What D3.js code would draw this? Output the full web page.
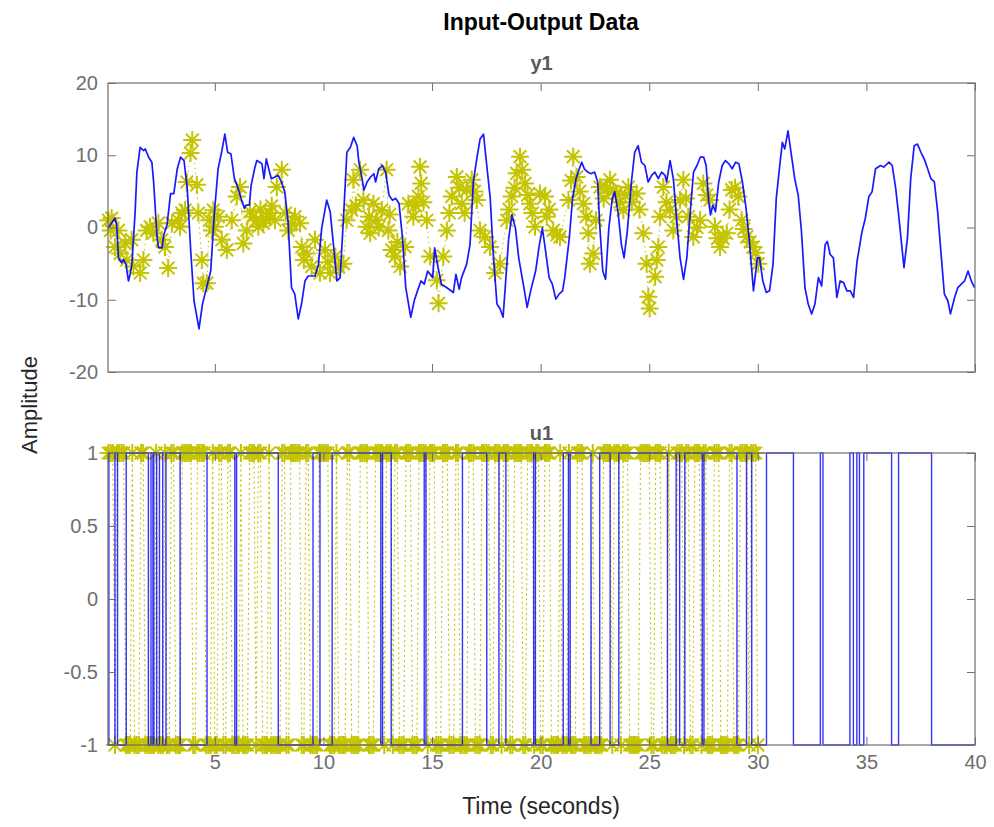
<!DOCTYPE html>
<html><head><meta charset="utf-8">
<script src="https://cdn.jsdelivr.net/npm/d3@7"></script>
<style>
body{margin:0;background:#fff}
svg{display:block}
text{font-family:"Liberation Sans",Arial,Helvetica,sans-serif}
</style>
</head><body>
<svg id="chart" width="994" height="827"></svg>
<script>
// ---------------- data ----------------
const xTicks = [5, 10, 15, 20, 25, 30, 35, 40];
const yTicksTop = [-20, -10, 0, 10, 20];
const yTicksBottom = [-1, -0.5, 0, 0.5, 1];

// y1 (blue line), time in seconds / amplitude
const y1BlueT = [0.1,0.4,0.48,0.56,0.71,0.79,0.91,1.02,1.1,1.18,1.33,1.41,1.56,1.72,1.8,1.95,2.1,2.18,2.34,2.41,2.57,2.65,2.8,2.96,3.11,3.27,3.42,3.58,3.73,3.89,4.04,4.27,4.43,4.58,4.81,4.97,5.15,5.31,5.46,5.59,5.74,5.9,6.05,6.21,6.36,6.44,6.59,6.67,6.83,6.93,7.06,7.17,7.26,7.37,7.48,7.6,7.91,8.07,8.22,8.37,8.53,8.68,8.84,8.99,9.15,9.3,9.46,9.61,9.77,9.92,10.15,10.31,10.46,10.62,10.77,10.93,11.08,11.24,11.39,11.55,11.63,11.78,11.86,12.01,12.17,12.32,12.4,12.55,12.71,12.86,13.02,13.17,13.33,13.48,13.64,13.79,14.02,14.18,14.33,14.49,14.64,14.8,15.03,15.12,15.28,15.43,15.67,15.98,16.1,16.25,16.36,16.59,16.75,16.9,17.06,17.21,17.37,17.52,17.68,17.83,17.99,18.14,18.27,18.37,18.53,18.68,18.84,18.99,19.23,19.38,19.54,19.77,19.92,20.08,20.23,20.39,20.54,20.7,20.85,21.01,21.11,21.32,21.47,21.63,21.78,21.89,22.01,22.17,22.32,22.48,22.63,22.71,22.86,22.99,23.14,23.3,23.41,23.56,23.72,23.84,23.99,24.18,24.33,24.49,24.64,24.8,24.95,25.11,25.26,25.42,25.57,25.73,25.8,25.96,26.11,26.27,26.42,26.58,26.73,26.89,27.04,27.2,27.35,27.51,27.62,27.74,27.82,27.93,28.05,28.2,28.36,28.51,28.67,28.82,28.98,29.13,29.29,29.44,29.6,29.8,29.98,30.08,30.23,30.39,30.54,30.7,30.85,31.01,31.13,31.24,31.39,31.55,31.7,31.86,32.01,32.17,32.32,32.48,32.63,32.79,32.94,33.1,33.2,33.33,33.48,33.64,33.79,33.95,34.1,34.26,34.41,34.57,34.8,34.95,35.11,35.26,35.42,35.65,35.8,36.04,36.19,36.35,36.5,36.73,36.89,37.04,37.2,37.35,37.51,37.66,37.82,37.97,38.13,38.28,38.44,38.59,38.75,38.87,39.06,39.21,39.37,39.52,39.68,39.83,39.98];
const y1BlueV = [0.0,1.28,0.37,-4.2,-4.89,-4.43,-5.11,-7.4,-6.48,-5.11,2.19,7.67,11.1,10.64,10.87,9.73,9.04,6.3,-1.46,-2.83,-2.83,-1.0,0.37,4.7,4.7,8.13,9.73,9.27,5.39,-3.29,-10.14,-14.02,-10.59,-8.77,-6.03,1.74,8.13,10.41,12.92,10.41,10.18,6.76,5.62,4.02,2.65,3.11,3.11,5.84,8.13,9.27,9.04,8.81,6.76,9.5,8.13,6.76,7.21,6.3,4.93,0.82,-8.31,-9.22,-12.65,-10.59,-7.4,-6.71,-6.71,-6.71,-5.11,-0.09,3.79,2.19,-2.37,-7.4,-6.94,1.74,10.41,11.1,12.47,11.32,9.04,6.76,5.16,6.3,6.99,7.44,6.3,8.13,8.58,7.67,4.47,3.79,4.02,3.33,-1.46,-8.31,-12.42,-10.14,-8.77,-7.4,-7.85,-6.03,-6.94,-2.83,-5.57,-7.85,-8.31,-9.0,-6.48,-8.54,-6.94,-5.11,-2.37,6.3,9.5,12.24,12.92,8.58,4.02,-4.2,-10.59,-11.28,-12.42,-8.31,-1.46,1.74,-0.09,-4.2,-8.31,-11.05,-8.77,-6.03,-2.83,-0.09,-3.29,-6.94,-7.85,-9.91,-9.22,-8.77,-6.94,-1.46,4.02,6.76,8.13,9.04,8.13,7.67,7.44,7.67,6.3,0.82,-6.03,-7.17,-0.09,4.02,4.93,2.19,-2.37,-4.2,-0.55,6.3,10.41,11.32,9.04,8.58,6.3,7.21,7.67,6.76,7.67,7.21,6.3,9.27,6.76,0.82,-4.2,-7.17,-4.2,2.19,7.67,8.58,9.73,9.73,8.58,3.56,1.74,3.11,2.19,6.3,8.58,9.27,8.81,8.13,9.04,8.81,6.3,3.11,-1.46,-8.77,-4.2,-4.2,-7.4,-9.0,-8.77,-5.11,4.02,8.58,11.78,10.87,13.38,9.95,6.76,4.47,-0.55,-8.31,-10.59,-11.96,-10.59,-6.94,-8.08,-2.37,-1.92,-3.74,-4.2,-9.68,-7.4,-7.63,-8.77,-8.77,-9.68,-4.66,-0.55,1.28,4.25,4.93,8.13,8.58,8.36,9.04,8.58,5.39,1.28,-5.57,-1.46,6.76,11.32,11.55,10.41,9.5,8.13,6.76,6.3,2.19,-3.74,-9.22,-10.14,-11.96,-9.68,-8.31,-7.85,-7.4,-6.03,-7.4,-8.31];

// y1 (yellow markers, second data set)
const y1YellowT = [0.1,0.2,0.25,0.4,0.56,0.64,0.87,0.94,1.17,1.25,1.56,1.71,1.86,2.02,2.17,2.4,2.55,2.7,2.85,3.02,3.32,3.4,3.48,3.63,3.71,3.88,3.96,4.17,4.24,4.4,4.47,4.63,4.75,4.86,4.93,5.0,5.16,5.32,5.55,5.78,6.01,6.16,6.31,6.47,6.62,6.77,6.9,7.0,7.1,7.23,7.35,7.54,7.62,7.77,7.85,8.08,8.25,8.38,8.55,8.69,8.92,9.0,9.1,9.23,9.46,9.61,9.84,10.07,10.2,10.3,10.55,10.7,10.92,11.07,11.3,11.38,11.5,11.69,11.84,11.99,12.1,12.15,12.3,12.45,12.55,12.68,12.91,12.99,13.05,13.14,13.3,13.4,13.53,13.76,13.91,14.14,14.25,14.37,14.45,14.5,14.6,14.76,14.91,15.22,15.3,15.52,15.68,15.8,15.91,16.14,16.25,16.37,16.5,16.6,16.83,16.95,17.06,17.21,17.44,17.67,17.9,18.13,18.44,18.55,18.67,18.8,18.9,19.05,19.15,19.28,19.4,19.51,19.62,19.74,19.97,20.2,20.28,20.4,20.58,20.75,20.89,21.28,21.4,21.5,21.66,21.8,21.97,22.1,22.2,22.27,22.43,22.55,22.73,22.9,23.05,23.19,23.35,23.5,23.65,23.81,23.9,24.04,24.2,24.42,24.55,24.73,24.88,24.96,25.02,25.27,25.35,25.42,25.5,25.65,25.8,25.96,26.11,26.25,26.42,26.57,26.7,26.8,27.03,27.2,27.34,27.49,27.65,27.8,28.03,28.15,28.26,28.4,28.57,28.7,28.8,28.95,29.1,29.26,29.35,29.49,29.65,29.79,29.9,30.02];
const y1YellowV = [1.0,-0.4,1.3,-2.7,-0.4,-3.6,-2.2,-4.5,-1.7,-5.4,-6.3,-4.5,-0.4,0.1,-0.8,0.6,-1.7,-2.7,-5.6,0.6,1.0,0.1,2.0,2.4,6.3,10.3,12.1,5.9,2.0,-4.5,-7.7,-7.7,1.0,-0.4,2.4,0.1,1.5,-1.7,-3.1,1.0,4.3,5.6,-2.2,-0.4,2.2,1.5,1.0,0.1,2.5,0.6,1.2,2.0,3.0,1.0,5.6,8.0,2.0,-0.4,0.5,1.5,0.6,-2.7,-4.5,-3.6,-5.4,-1.7,-6.3,-3.1,-4.8,-6.3,-4.0,-5.5,-5.0,1.0,2.4,6.6,3.0,8.0,3.8,0.1,1.5,-0.8,3.3,1.0,0.0,2.4,8.0,-0.4,1.8,-3.1,-4.0,-2.0,-5.4,-2.7,3.3,1.5,3.0,4.3,8.4,6.1,3.5,1.0,-4.0,-7.3,-10.5,-4.0,-0.4,2.0,4.3,7.0,5.5,3.3,2.0,5.2,6.6,5.0,3.8,-0.4,-1.3,-2.7,-6.3,-5.0,1.0,2.5,4.3,5.5,7.5,9.8,8.0,6.1,4.5,3.3,2.0,0.1,4.7,4.3,1.5,2.5,-0.4,-1.0,-1.3,3.8,6.5,9.8,7.0,5.0,3.3,1.5,-0.8,-5.0,-3.6,1.0,5.6,4.0,5.5,6.6,5.0,4.7,3.5,2.4,4.5,5.6,3.5,4.7,2.5,-0.8,-5.0,-9.6,-11.2,-6.8,-4.5,-2.7,1.5,5.6,3.5,2.4,-0.4,1.5,3.8,6.6,4.0,1.5,-1.3,0.0,1.0,6.1,4.5,3.8,0.1,-1.5,-2.7,-1.5,-0.8,2.5,5.2,5.5,4.3,1.0,-0.2,-1.3,-2.0,-2.7,-3.5,-5.0];

// u1 (blue, zero-order hold): switching times and the level held from each
const u1BlueT = [0.08,0.12,0.4,0.52,0.92,1.94,2.06,2.15,2.19,2.32,2.45,2.6,2.75,3.4,4.64,5.92,6.0,7.92,9.52,9.84,10.4,12.64,12.72,13.12,14.64,14.72,16.4,17.52,18.08,18.4,19.68,19.76,21.04,21.28,21.36,22.32,22.72,23.2,23.6,25.84,26.24,26.4,26.64,27.44,27.52,29.04,29.48,29.72,30.4,31.64,32.88,33.0,34.24,34.4,34.56,34.68,34.88,36.16,36.48,38.0];
const u1BlueV = [1,-1,1,-1,1,-1,1,-1,1,-1,1,-1,1,-1,1,-1,1,-1,1,-1,1,-1,1,-1,1,-1,1,-1,1,-1,1,-1,1,-1,1,-1,1,-1,1,-1,1,-1,1,-1,1,-1,1,-1,1,-1,1,-1,1,-1,1,-1,1,-1,1,-1];

// u1 (yellow, second data set): one value per sample, Ts = 0.1 s from t = 0.1 s
const u1YellowT0 = 0.1, u1YellowTs = 0.1;
const u1YellowV = [
  1,1,1,-1,1,1,1,1, -1,-1,-1,1,-1,-1,-1, 1,1, -1,-1,-1,-1,-1, 1, -1,-1,-1,1,-1,-1, 1,1, -1,-1,-1,
  1,1,1,1,1, -1,-1, 1,1,1,1, -1,-1,-1,1,-1,-1, 1,1, -1,-1, 1,1, -1,-1,-1,-1,1,-1,-1,-1,
  1,1,1, -1, 1,1, -1,-1,-1, 1, -1,-1,-1,-1,-1, 1,1, -1,-1, 1,1,1,1,1, -1,-1, 1,1, -1,-1,-1,-1,
  1,1,1,1,1, -1,-1,-1,1,-1,-1,-1,-1, 1,1, -1,-1,-1,-1, 1,1,1,1, -1,-1,-1,
  1,1,1,1,-1,1,1,1,-1,1,1, -1,-1,-1, 1,1,1, -1,-1,-1, 1,1,1,1,-1,1,1,1, -1,-1,-1, 1,1,1, -1,-1,-1,
  1,1, -1,-1,-1,-1, 1,1,1, -1,-1,-1, 1,1,1,1, -1,-1, 1,1,1,-1,1,1,1, -1,-1, 1,1,1,1, -1,-1,
  1,1,1,-1,1,1, -1,-1, 1,1,1, -1,-1,-1,-1,1,-1,-1,-1,1,-1,-1,-1, 1,1,1, -1,-1,-1,-1,1,-1,-1,-1,-1,
  1,1,1,1,-1,1,1,1,-1,1,1,1, -1,-1,-1,-1,-1, 1,1,1,1,1, -1,-1, 1,1,1, -1,-1,-1,1,-1,-1,-1,
  1,1,1,-1,1,1, -1,-1, 1,1,1,-1,1,1, -1,-1,-1, 1,1,1, -1,-1,-1,-1, 1,1, -1,-1,-1,
  1,1,1,1,-1,1,1,1, -1
];
const tStart = 0.08, tEnd = 40;

// ---------------- drawing ----------------
const svg = d3.select("#chart");
const BLUE = "#0000ff", YELLOW = "#c4c400", AXC = "#6f6f6f", TXT = "#6f6f6f";
const left = 108, right = 975;
const x = d3.scaleLinear().domain([tStart, tEnd]).range([left, right]);
const numFmt = d => String(d);

const panels = [
  {id: "top", top: 83, bottom: 372, dom: [-20, 20], ticks: yTicksTop, showX: false, title: "y1"},
  {id: "bot", top: 453, bottom: 745, dom: [-1, 1], ticks: yTicksBottom, showX: true, title: "u1"}
];

function asterisk(r) {
  const a = r * Math.SQRT1_2;
  return `M${-r},0L${r},0M0,${-r}L0,${r}M${-a},${-a}L${a},${a}M${-a},${a}L${a},${-a}`;
}
const AST = asterisk(9);

panels.forEach(p => {
  p.y = d3.scaleLinear().domain(p.dom).range([p.bottom, p.top]);
  const g = svg.append("g");
  svg.append("clipPath").attr("id", "clip-" + p.id).append("rect")
    .attr("x", left - 12).attr("y", p.top - 12).attr("width", right - left + 24).attr("height", p.bottom - p.top + 24);
  p.plot = g.append("g").attr("clip-path", `url(#clip-${p.id})`);
  p.g = g;
});

// ---- top panel: y1
{
  const p = panels[0];
  const yPts = y1YellowT.map((t, i) => [t, y1YellowV[i]]);
  const bPts = y1BlueT.map((t, i) => [t, y1BlueV[i]]);
  const line = d3.line().x(d => x(d[0])).y(d => p.y(d[1]));
  p.plot.append("path").attr("d", line(yPts)).attr("fill", "none").attr("stroke", YELLOW)
    .attr("stroke-width", 1).attr("stroke-dasharray", "1.5,3.5");
  p.plot.selectAll("path.ast").data(yPts).join("path").attr("class", "ast")
    .attr("transform", d => `translate(${x(d[0])},${p.y(d[1])})`)
    .attr("d", AST).attr("fill", "none").attr("stroke", YELLOW).attr("stroke-width", 2);
  p.plot.append("path").attr("d", line(bPts)).attr("fill", "none").attr("stroke", BLUE)
    .attr("stroke-width", 1.7).attr("stroke-linejoin", "round").attr("stroke-opacity", 0.9);
}

// ---- bottom panel: u1
{
  const p = panels[1];
  const yPts = u1YellowV.map((v, i) => [u1YellowT0 + i * u1YellowTs, v]);
  const line = d3.line().x(d => x(d[0])).y(d => p.y(d[1]));
  p.plot.append("path").attr("d", line(yPts)).attr("fill", "none").attr("stroke", YELLOW)
    .attr("stroke-width", 1.1).attr("stroke-dasharray", "2,3");
  p.plot.selectAll("path.ast").data(yPts).join("path").attr("class", "ast")
    .attr("transform", d => `translate(${x(d[0])},${p.y(d[1])})`)
    .attr("d", AST).attr("fill", "none").attr("stroke", YELLOW).attr("stroke-width", 2);
  const bPts = u1BlueT.map((t, i) => [t, u1BlueV[i]]);
  bPts.push([tEnd, u1BlueV[u1BlueV.length - 1]]);
  const stairs = d3.line().curve(d3.curveStepAfter).x(d => x(d[0])).y(d => p.y(d[1]));
  p.plot.append("path").attr("d", stairs(bPts)).attr("fill", "none").attr("stroke", BLUE)
    .attr("stroke-width", 1.4).attr("stroke-opacity", 0.8);
}

// ---- axes, box, labels
panels.forEach(p => {
  const g = p.g;
  const styleAxis = a => {
    a.select(".domain").remove();
    a.selectAll(".tick line").attr("stroke", AXC).attr("stroke-width", 1);
    a.selectAll(".tick text").attr("fill", TXT).style("font-size", "20px")
      .style("font-family", '"Liberation Sans", Arial, sans-serif');
  };
  g.append("g").attr("transform", `translate(0,${p.bottom})`)
    .call(d3.axisBottom(x).tickValues(xTicks).tickSizeInner(-8).tickSizeOuter(0).tickPadding(10)
      .tickFormat(p.showX ? numFmt : () => ""))
    .call(styleAxis);
  g.append("g").attr("transform", `translate(0,${p.top})`)
    .call(d3.axisTop(x).tickValues(xTicks).tickSizeInner(-8).tickSizeOuter(0).tickFormat(() => ""))
    .call(styleAxis);
  g.append("g").attr("transform", `translate(${left},0)`)
    .call(d3.axisLeft(p.y).tickValues(p.ticks).tickSizeInner(-8).tickSizeOuter(0).tickPadding(10).tickFormat(numFmt))
    .call(styleAxis);
  g.append("g").attr("transform", `translate(${right},0)`)
    .call(d3.axisRight(p.y).tickValues(p.ticks).tickSizeInner(-8).tickSizeOuter(0).tickFormat(() => ""))
    .call(styleAxis);
  g.append("rect").attr("x", left).attr("y", p.top).attr("width", right - left).attr("height", p.bottom - p.top)
    .attr("fill", "none").attr("stroke", AXC).attr("stroke-width", 1.2);
  svg.append("text").attr("x", (left + right) / 2).attr("y", p.top - 13).attr("text-anchor", "middle")
    .attr("fill", "#5a5a5a").style("font-size", "20px").style("font-weight", "bold").text(p.title);
});

svg.append("text").attr("x", 541).attr("y", 30).attr("text-anchor", "middle").attr("fill", "#000")
  .style("font-size", "23px").style("font-weight", "bold").text("Input-Output Data");
svg.append("text").attr("transform", "translate(37,405) rotate(-90)").attr("text-anchor", "middle")
  .attr("fill", "#262626").style("font-size", "22px").text("Amplitude");
svg.append("text").attr("x", 541).attr("y", 814).attr("text-anchor", "middle")
  .attr("fill", "#262626").style("font-size", "23px").text("Time (seconds)");
</script>
</body></html>
